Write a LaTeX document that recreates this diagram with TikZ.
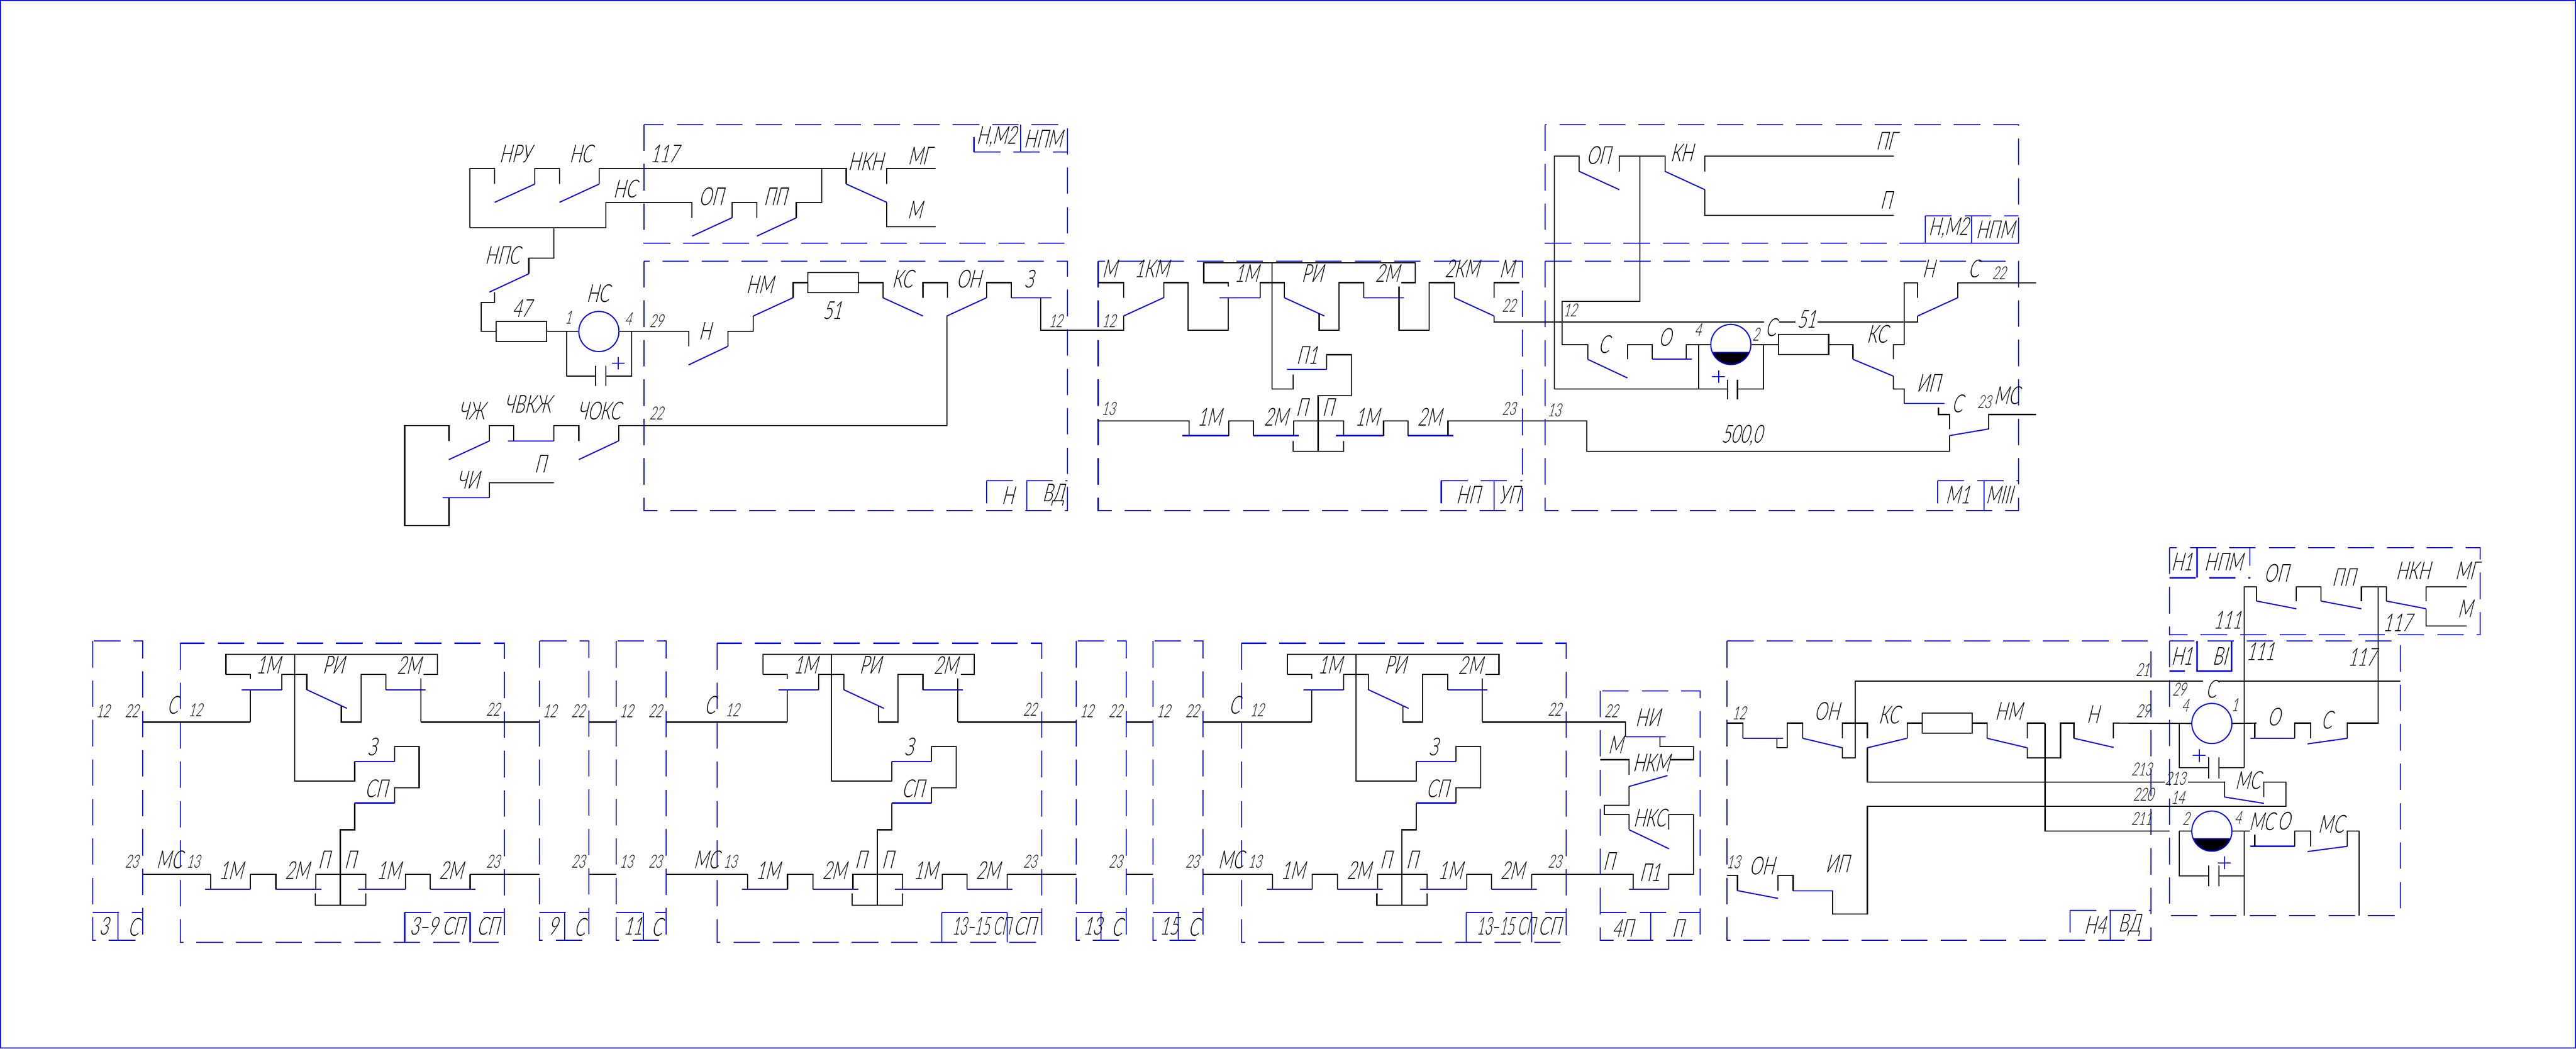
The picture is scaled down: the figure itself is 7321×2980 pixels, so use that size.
\documentclass[tikz,border=0pt]{standalone}
\usepackage{fontspec}
\setmainfont[FakeSlant=0.25,FakeStretch=0.65]{Lato Light}
\definecolor{panelblue}{RGB}{0,0,225}
\tikzset{
  wire/.style={black,line width=0.9pt},
  contact/.style={panelblue,line width=0.9pt},
  panelbox/.style={panelblue,line width=0.9pt,dash pattern=on 0.75cm off 0.37cm},
  tagline/.style={panelblue,line width=0.9pt},
  plus/.style={panelblue,line width=0.9pt},
  biglabel/.style={font=\fontsize{20}{22}\selectfont,inner sep=0pt},
  smalllabel/.style={font=\fontsize{14.5}{16}\selectfont,inner sep=0pt},
  res/.style={draw=black,line width=0.9pt,minimum width=1.43cm,minimum height=0.57cm,inner sep=0pt},
  lamp/.style={draw=panelblue,line width=0.9pt,circle,minimum size=1.14cm,inner sep=0pt},
}
\begin{document}
\begin{tikzpicture}[x=0.01cm,y=-0.01cm]
\useasboundingbox (0,0) rectangle (7321,2980);
\draw[contact] (1.5,1.5) rectangle (7319.5,2978.5);

% upper row, first panel
\draw[panelbox] (1830,354) rectangle (3034,691);
\draw[panelbox] (1830,742) rectangle (3034,1451);
\draw[panelbox] (2768,432) -- (3034,432);
\draw[tagline] (2768,432) -- (2768,390);
\draw[tagline] (2901,354) -- (2901,432);
\draw[panelbox] (2804,1366) -- (3034,1366);
\draw[tagline] (2804,1366) -- (2804,1430);
\draw[tagline] (2918,1366) -- (2918,1451);

\node[res] (res47) at (1481.5,942) {};
\node[res] (res51) at (2367.5,803) {};
\node[lamp] (lampns) at (1702,942) {};

\draw[wire] (1335,647) -- (1335,479) -- (1406,479) -- (1406,523);
\draw[contact] (1406,575) -- (1520,523);
\draw[wire] (1520,523) -- (1520,479) -- (1590,479) -- (1590,523);
\draw[contact] (1590,575) -- (1703,523);
\draw[wire] (1703,523) -- (1703,479) -- (2405,479) -- (2405,523);
\draw[contact] (2405,523) -- (2520,575);
\draw[wire] (2520,575) -- (2520,644) -- (2659,644);
\draw[wire] (2520,523) -- (2520,479) -- (2659,479);
\draw[wire] (1335,647) -- (1722,647) -- (1722,575) -- (1967,575) -- (1967,619);
\draw[contact] (1967,671) -- (2080,619);
\draw[wire] (2080,619) -- (2080,575) -- (2151,575) -- (2151,619);
\draw[contact] (2151,671) -- (2263,619);
\draw[wire] (2263,619) -- (2263,575) -- (2335,575) -- (2335,479);
\draw[wire] (1574,647) -- (1574,734) -- (1503,734) -- (1503,778);
\draw[contact] (1503,778) -- (1391,830);
\draw[wire] (1406,830) -- (1406,860) -- (1368,860) -- (1368,942) -- (res47.west);
\draw[wire] (res47.east) -- (lampns.west);
\draw[wire] (lampns.east) -- (1957,942) -- (1957,984);
\draw[wire] (1611,942) -- (1611,1069) -- (1693,1069);
\draw[wire] (1693,1040) -- (1693,1097);
\draw[wire] (1722,1040) -- (1722,1097);
\draw[wire] (1722,1069) -- (1795,1069) -- (1795,942);
\draw[plus] (1739,1032) -- (1775,1032);
\draw[plus] (1757,1014) -- (1757,1050);
\draw[contact] (1957,1037) -- (2069,984);
\draw[wire] (2069,984) -- (2069,942) -- (2141,942) -- (2141,898);
\draw[contact] (2141,898) -- (2254,846);
\draw[wire] (2254,846) -- (2254,803) -- (res51.west);
\draw[wire] (res51.east) -- (2509,803) -- (2509,846);
\draw[contact] (2509,846) -- (2623,898);
\draw[wire] (2623,846) -- (2623,803) -- (2693,803) -- (2693,846);
\draw[contact] (2691,898) -- (2804,846);
\draw[wire] (2691,898) -- (2691,1210) -- (1758,1210) -- (1758,1253);
\draw[contact] (1758,1253) -- (1645,1306);
\draw[wire] (1645,1253) -- (1645,1209) -- (1574,1209) -- (1574,1253);
\draw[contact] (1444,1253) -- (1574,1253);
\draw[wire] (1460,1253) -- (1460,1209) -- (1391,1209) -- (1391,1253);
\draw[contact] (1276,1306) -- (1391,1253);
\draw[wire] (1276,1253) -- (1276,1209) -- (1150,1209) -- (1150,1493) -- (1276,1493) -- (1276,1414);
\draw[contact] (1258,1414) -- (1391,1414);
\draw[wire] (1391,1414) -- (1391,1372) -- (1574,1372);
\draw[wire] (2804,846) -- (2804,803) -- (2874,803) -- (2874,846);
\draw[contact] (2874,846) -- (2988,846);
\draw[wire] (2958,846) -- (2958,938) -- (3193,938) -- (3193,898);

\node[biglabel] (a1) at (1464,437) {НРУ};
\node[biglabel] (a2) at (1651,437) {НС};
\node[biglabel] (a3) at (1888,437) {117};
\node[biglabel] (a4) at (1776,536) {НС};
\node[biglabel] (a5) at (2021,558) {ОП};
\node[biglabel] (a6) at (2203,558) {ПП};
\node[biglabel] (a7) at (2460,459) {НКН};
\node[biglabel] (a8) at (2613,443) {МГ};
\node[biglabel] (a9) at (2600,597) {М};
\node[biglabel] (a10) at (1428,726) {НПС};
\node[biglabel] (a11) at (1483,876) {47};
\node[smalllabel] (a12) at (1615,902) {1};
\node[biglabel] (a13) at (1699,834) {НС};
\node[smalllabel] (a14) at (1785,906) {4};
\node[smalllabel] (a15) at (1865,912) {29};
\node[biglabel] (a16) at (2003,940) {Н};
\node[biglabel] (a17) at (2159,809) {НМ};
\node[biglabel] (a18) at (2365,882) {51};
\node[biglabel] (a19) at (2564,793) {КС};
\node[biglabel] (a20) at (2753,793) {ОН};
\node[biglabel] (a21) at (2924,793) {З};
\node[smalllabel] (a22) at (3000,912) {12};
\node[biglabel] (a23) at (1340,1167) {ЧЖ};
\node[biglabel] (a24) at (1499,1149) {ЧВКЖ};
\node[biglabel] (a25) at (1702,1167) {ЧОКС};
\node[smalllabel] (a26) at (1865,1175) {22};
\node[biglabel] (a27) at (1535,1319) {П};
\node[biglabel] (a28) at (1330,1364) {ЧИ};
\node[biglabel] (a29) at (2832,388) {Н,М2};
\node[biglabel] (a30) at (2965,394) {НПМ};
\node[biglabel] (a31) at (2865,1408) {Н};
\node[biglabel] (a32) at (2994,1406) {ВД};

% upper row, second panel
\draw[panelbox] (3121,742) rectangle (4327,1451);
\draw[panelbox] (4096,1366) -- (4327,1366);
\draw[tagline] (4096,1366) -- (4096,1430);
\draw[tagline] (4246,1366) -- (4246,1451);

\draw[contact] (3193,898) -- (3307,846);
\draw[wire] (3193,846) -- (3193,803) -- (3121,803);
\draw[wire] (3307,846) -- (3307,803) -- (3376,803) -- (3376,938) -- (3490,938) -- (3490,846);
\draw[contact] (3465,846) -- (3581,846);
\draw[wire] (3581,846) -- (3581,803) -- (3650,803) -- (3650,846);
\draw[contact] (3650,846) -- (3764,898);
\draw[wire] (3749,891) -- (3749,938) -- (3805,938) -- (3805,803) -- (3876,803) -- (3876,846);
\draw[contact] (3876,846) -- (3990,846);
\draw[wire] (3976,814) -- (3976,938) -- (4062,938) -- (4062,803) -- (4133,803) -- (4133,846);
\draw[contact] (4133,846) -- (4246,898);
\draw[wire] (4246,898) -- (4246,915) -- (5014,915);
\draw[wire] (4246,846) -- (4246,803) -- (4318,803);
\draw[wire] (3490,814) -- (3490,803) -- (3421,803) -- (3421,747) -- (4022,747) -- (4022,803) -- (3983,803);
\draw[wire] (3615,747) -- (3615,1106) -- (3675,1106) -- (3675,1065);
\draw[contact] (3657,1050) -- (3770,1050);
\draw[wire] (3770,1050) -- (3770,1008) -- (3840,1008) -- (3840,1125) -- (3746,1125) -- (3746,1283);
\draw[wire] (3121,1196) -- (3379,1196) -- (3379,1238);
\draw[contact] (3361,1238) -- (3492,1238);
\draw[wire] (3492,1238) -- (3492,1196) -- (3562,1196) -- (3562,1238);
\draw[contact] (3562,1238) -- (3691,1238);
\draw[wire] (3677,1238) -- (3677,1196) -- (3818,1196) -- (3818,1238);
\draw[contact] (3797,1238) -- (3932,1238);
\draw[wire] (3932,1238) -- (3932,1196) -- (4002,1196) -- (4002,1238);
\draw[contact] (4002,1238) -- (4130,1238);
\draw[wire] (4115,1238) -- (4115,1196) -- (4510,1196) -- (4510,1283) -- (5540,1283) -- (5540,1238);
\draw[wire] (3675,1253) -- (3675,1283) -- (3818,1283) -- (3818,1253);

\node[biglabel] (b1) at (3153,764) {М};
\node[biglabel] (b2) at (3273,764) {1КМ};
\node[biglabel] (b3) at (3543,777) {1М};
\node[biglabel] (b4) at (3729,777) {РИ};
\node[biglabel] (b5) at (3943,777) {2М};
\node[biglabel] (b6) at (4155,764) {2КМ};
\node[biglabel] (b7) at (4282,764) {М};
\node[smalllabel] (b8) at (3151,912) {12};
\node[smalllabel] (b9) at (4288,868) {22};
\node[biglabel] (b10) at (3715,1010) {П1};
\node[smalllabel] (b11) at (3150,1161) {13};
\node[biglabel] (b12) at (3700,1157) {П};
\node[biglabel] (b13) at (3775,1157) {П};
\node[biglabel] (b14) at (3438,1185) {1М};
\node[biglabel] (b15) at (3626,1185) {2М};
\node[biglabel] (b16) at (3885,1185) {1М};
\node[biglabel] (b17) at (4063,1185) {2М};
\node[smalllabel] (b18) at (4288,1161) {23};
\node[biglabel] (b19) at (4173,1406) {НП};
\node[biglabel] (b20) at (4289,1406) {УП};

% upper row, third panel
\draw[panelbox] (4391,354) rectangle (5737,691);
\draw[panelbox] (4391,742) rectangle (5737,1451);
\draw[panelbox] (5472,613) -- (5737,613);
\draw[tagline] (5472,613) -- (5472,691) -- (5737,691);
\draw[tagline] (5604,613) -- (5604,691);
\draw[panelbox] (5507,1366) -- (5737,1366);
\draw[tagline] (5507,1366) -- (5507,1430);
\draw[tagline] (5639,1366) -- (5639,1451);

\node[res] (res51b) at (5125.5,979) {};
\fill (4972,1001) arc (22.7:157.3:57) -- cycle;
\node[lamp] (lampc) at (4919,979) {};
\draw[contact] (4866,1001) -- (4972,1001);

\draw[wire] (4417,1106) -- (4417,444) -- (4488,444) -- (4488,487);
\draw[contact] (4488,487) -- (4602,539);
\draw[wire] (4602,487) -- (4602,444) -- (4732,444) -- (4732,487);
\draw[contact] (4732,487) -- (4845,539);
\draw[wire] (4845,539) -- (4845,612) -- (5383,612);
\draw[wire] (4845,487) -- (4845,444) -- (5383,444);
\draw[wire] (4660,444) -- (4660,856) -- (4440,856) -- (4440,979) -- (4512,979) -- (4512,1021);
\draw[contact] (4512,1021) -- (4625,1074);
\draw[wire] (4625,1021) -- (4625,979) -- (4696,979) -- (4696,1021);
\draw[contact] (4696,1021) -- (4809,1021);
\draw[wire] (4792,1021) -- (4792,979) -- (lampc.west);
\draw[wire] (lampc.east) -- (res51b.west);
\draw[wire] (res51b.east) -- (5266,979) -- (5266,1021);
\draw[contact] (5266,1021) -- (5381,1069);
\draw[wire] (5381,1069) -- (5381,1106) -- (5412,1106) -- (5412,1147);
\draw[contact] (5412,1147) -- (5526,1147);
\draw[wire] (5509,1158) -- (5509,1178) -- (5540,1178) -- (5540,1219);
\draw[contact] (5540,1238) -- (5652,1219);
\draw[wire] (5652,1219) -- (5652,1178) -- (5787,1178);
\draw[wire] (4828,979) -- (4828,1106) -- (4417,1106);
\draw[wire] (4828,1106) -- (4910,1106);
\draw[wire] (4910,1079) -- (4910,1135);
\draw[wire] (4938,1079) -- (4938,1135);
\draw[wire] (4938,1106) -- (5012,1106) -- (5012,979);
\draw[plus] (4866,1070) -- (4902,1070);
\draw[plus] (4884,1052) -- (4884,1088);
\draw[wire] (5381,1021) -- (5381,979) -- (5412,979) -- (5412,804) -- (5450,804) -- (5450,846);
\draw[wire] (5056,915) -- (5102,915);
\draw[wire] (5165,915) -- (5450,915) -- (5450,898);
\draw[contact] (5450,898) -- (5564,846);
\draw[wire] (5564,846) -- (5564,804) -- (5787,804);

\node[biglabel] (c1) at (4543,442) {ОП};
\node[biglabel] (c2) at (4780,434) {КН};
\node[biglabel] (c3) at (5360,400) {ПГ};
\node[biglabel] (c4) at (5360,569) {П};
\node[biglabel] (c5) at (5481,764) {Н};
\node[biglabel] (c6) at (5610,764) {С};
\node[smalllabel] (c7) at (5681,776) {22};
\node[smalllabel] (c8) at (4462,882) {12};
\node[biglabel] (c9) at (4558,979) {С};
\node[biglabel] (c10) at (4732,958) {О};
\node[smalllabel] (c11) at (4825,938) {4};
\node[smalllabel] (c12) at (4990,950) {2};
\node[biglabel] (c13) at (5033,930) {С};
\node[biglabel] (c14) at (5134,907) {51};
\node[biglabel] (c15) at (5335,950) {КС};
\node[biglabel] (c16) at (5481,1089) {ИП};
\node[biglabel] (c17) at (5563,1147) {С};
\node[biglabel] (c18) at (5703,1124) {МС};
\node[smalllabel] (c19) at (5639,1143) {23};
\node[smalllabel] (c20) at (4417,1165) {13};
\node[biglabel] (c21) at (4950,1238) {500,0};
\node[biglabel] (c22) at (5538,647) {Н,М2};
\node[biglabel] (c23) at (5670,652) {НПМ};
\node[biglabel] (c24) at (5564,1406) {М1};
\node[biglabel] (c25) at (5682,1406) {МIII};

% lower row, narrow boxes
\foreach \xleft/\xright/\xtag/\xnum/\num in {263/405/335/295/3,1533/1674/1605/1572/9,1751/1893/1829/1799/11,3059/3201/3129/3105/13,3277/3419/3348/3323/15} {
  \draw[panelbox] (\xleft,1822) rectangle (\xright,2672);
  \draw[panelbox] (\xleft,2593) -- (\xright,2593);
  \draw[tagline] (\xtag,2593) -- (\xtag,2672);
  \node[smalllabel] (top\num) at (\xleft+29,2021) {12};
  \node[smalllabel] (out\num) at (\xright-31,2021) {22};
  \node[smalllabel] (low\num) at (\xright-31,2449) {23};
  \node[biglabel] (num\num) at (\xnum,2632) {\num};
  \node[biglabel] (let\num) at (\xright-26,2635) {С};
}
\node[smalllabel] (low13a) at (1780,2449) {13};

% lower row, repeated blocks
\foreach \xoffset/\tagx/\tagscale/\tagtext in {0/1243/1/3–9 СП,1526/1264/0.8/13–15 СП,3017/1264/0.8/13–15 СП} {
\begin{scope}[shift={(\xoffset,0)}]
  \draw[panelbox] (512,1828) rectangle (1434,2678);
  \draw[panelbox] (1150,2593) -- (1434,2593);
  \draw[tagline] (1150,2593) -- (1150,2678);
  \draw[tagline] (1336,2593) -- (1336,2678);
  \draw[wire] (642,1917) -- (642,1860) -- (1243,1860) -- (1243,1917) -- (1204,1917);
  \draw[wire] (642,1917) -- (711,1917) -- (711,1930);
  \draw[wire] (711,1960) -- (711,2052);
  \draw[contact] (687,1960) -- (801,1960);
  \draw[wire] (801,1960) -- (801,1917) -- (872,1917) -- (872,1960);
  \draw[contact] (872,1960) -- (986,2013);
  \draw[wire] (970,2006) -- (970,2052) -- (1026,2052) -- (1026,1917) -- (1097,1917) -- (1097,1960);
  \draw[contact] (1097,1960) -- (1210,1960);
  \draw[wire] (1196,1928) -- (1196,2052);
  \draw[wire] (837,1860) -- (837,2220) -- (1008,2220) -- (1008,2164);
  \draw[contact] (1008,2164) -- (1121,2164);
  \draw[wire] (1121,2164) -- (1121,2122) -- (1191,2122) -- (1191,2239) -- (1121,2239) -- (1121,2282);
  \draw[contact] (1008,2282) -- (1121,2282);
  \draw[wire] (1008,2282) -- (1008,2358) -- (967,2358) -- (967,2572);
  \draw[wire] (896,2539) -- (896,2572) -- (1039,2572) -- (1039,2539);
  \draw[wire] (599,2485) -- (599,2527);
  \draw[contact] (583,2527) -- (712,2527);
  \draw[wire] (712,2527) -- (712,2485) -- (784,2485) -- (784,2527);
  \draw[contact] (784,2527) -- (913,2527);
  \draw[wire] (898,2527) -- (898,2485) -- (1039,2485) -- (1039,2527);
  \draw[contact] (1018,2527) -- (1152,2527);
  \draw[wire] (1152,2527) -- (1152,2485) -- (1222,2485) -- (1222,2527);
  \draw[contact] (1222,2527) -- (1351,2527);
  \draw[wire] (1336,2527) -- (1336,2485);
  \node[biglabel] (d1\xoffset) at (491,2003) {С};
  \node[smalllabel] (d2\xoffset) at (555,2018) {12};
  \node[biglabel] (d3\xoffset) at (763,1890) {1М};
  \node[biglabel] (d4\xoffset) at (948,1890) {РИ};
  \node[biglabel] (d5\xoffset) at (1162,1890) {2М};
  \node[smalllabel] (d6\xoffset) at (1401,2016) {22};
  \node[biglabel] (d7\xoffset) at (1057,2123) {З};
  \node[biglabel] (d8\xoffset) at (1069,2241) {СП};
  \node[biglabel] (d9\xoffset) at (481,2443) {МС};
  \node[smalllabel] (d10\xoffset) at (549,2449) {13};
  \node[biglabel] (d11\xoffset) at (657,2473) {1М};
  \node[biglabel] (d12\xoffset) at (845,2473) {2М};
  \node[biglabel] (d13\xoffset) at (921,2443) {П};
  \node[biglabel] (d14\xoffset) at (996,2443) {П};
  \node[biglabel] (d15\xoffset) at (1105,2473) {1М};
  \node[biglabel] (d16\xoffset) at (1282,2473) {2М};
  \node[smalllabel] (d17\xoffset) at (1401,2449) {23};
  \node[biglabel] (d18\xoffset) at (\tagx,2632) {\scalebox{\tagscale}[1]{\tagtext}};
  \node[biglabel] (d19\xoffset) at (1387,2632) {СП};
\end{scope}
}
\draw[wire] (405,2052) -- (711,2052);
\draw[wire] (1196,2052) -- (1533,2052);
\draw[wire] (1674,2052) -- (1751,2052);
\draw[wire] (1893,2052) -- (2237,2052);
\draw[wire] (2722,2052) -- (3059,2052);
\draw[wire] (3201,2052) -- (3277,2052);
\draw[wire] (3419,2052) -- (3728,2052);
\draw[wire] (4213,2052) -- (4620,2052) -- (4620,2094);
\draw[wire] (405,2485) -- (599,2485);
\draw[wire] (1336,2485) -- (1533,2485);
\draw[wire] (1674,2485) -- (1751,2485);
\draw[wire] (1893,2485) -- (2125,2485);
\draw[wire] (2862,2485) -- (3059,2485);
\draw[wire] (3201,2485) -- (3277,2485);
\draw[wire] (3419,2485) -- (3616,2485);
\draw[wire] (4353,2485) -- (4642,2485) -- (4642,2527);

% box with 4П
\draw[panelbox] (4548,1963) rectangle (4832,2672);
\draw[panelbox] (4548,2593) -- (4832,2593);
\draw[tagline] (4691,2593) -- (4691,2672);
\draw[contact] (4620,2094) -- (4734,2094);
\draw[wire] (4717,2094) -- (4717,2121) -- (4813,2121) -- (4813,2159) -- (4746,2159);
\draw[wire] (4548,2159) -- (4630,2159) -- (4630,2202);
\draw[contact] (4630,2235) -- (4739,2204);
\draw[wire] (4630,2235) -- (4630,2289) -- (4559,2289) -- (4559,2315) -- (4630,2315) -- (4630,2358);
\draw[contact] (4630,2358) -- (4743,2412);
\draw[wire] (4743,2358) -- (4743,2315) -- (4813,2315) -- (4813,2485) -- (4743,2485) -- (4743,2527);
\draw[contact] (4630,2527) -- (4743,2527);

\node[smalllabel] (e1) at (4579,2021) {22};
\node[biglabel] (e2) at (4683,2039) {НИ};
\node[biglabel] (e3) at (4591,2116) {М};
\node[biglabel] (e4) at (4693,2167) {НКМ};
\node[biglabel] (e5) at (4688,2324) {НКС};
\node[biglabel] (e6) at (4572,2448) {П};
\node[biglabel] (e7) at (4689,2479) {П1};
\node[biglabel] (e8) at (4612,2637) {4П};
\node[biglabel] (e9) at (4768,2637) {П};

% lower right
\draw[panelbox] (4908,1822) rectangle (6113,2672);
\draw[panelbox] (5883,2587) -- (6113,2587);
\draw[tagline] (5883,2587) -- (5883,2650);
\draw[tagline] (5997,2587) -- (5997,2671);
\draw[panelbox] (6166,1821) rectangle (6821,2602);
\draw[panelbox] (6166,1556) rectangle (7049,1804);
\draw[tagline] (6244,1556) -- (6244,1642);
\draw[panelbox] (6166,1642) -- (6395,1642);
\draw[tagline] (6394,1556) -- (6394,1607);
\draw[tagline] (6244,1821) -- (6244,1907) -- (6342,1907) -- (6342,1875);
\draw[tagline] (6342,1821) -- (6342,1875);
\draw[tagline] (6166,1907) -- (6210,1907);

\node[res,minimum height=0.58cm,minimum width=1.42cm] (res51c) at (5534,2055) {};
\node[lamp] (lampc2) at (6286,2056) {};
\fill (6339,2384) arc (22.7:157.3:57) -- cycle;
\node[lamp] (lampm) at (6286,2362) {};
\draw[contact] (6233,2384) -- (6339,2384);

\draw[wire] (4908,2055) -- (4953,2055) -- (4953,2098);
\draw[contact] (4953,2098) -- (5067,2098);
\draw[wire] (5050,2098) -- (5050,2125) -- (5079,2125) -- (5079,2055) -- (5123,2055) -- (5123,2098);
\draw[contact] (5123,2098) -- (5236,2125);
\draw[wire] (5236,2125) -- (5236,2154) -- (5272,2154) -- (5272,1936) -- (6261,1936);
\draw[wire] (6303,1936) -- (6821,1936);
\draw[wire] (5236,2098) -- (5236,2055) -- (5307,2055) -- (5307,2098);
\draw[contact] (5307,2125) -- (5420,2098);
\draw[wire] (5420,2098) -- (5420,2055) -- (res51c.west);
\draw[wire] (res51c.east) -- (5647,2055) -- (5647,2098);
\draw[contact] (5647,2098) -- (5761,2125);
\draw[wire] (5761,2125) -- (5761,2154) -- (5856,2154) -- (5856,2055) -- (5894,2055) -- (5894,2098);
\draw[contact] (5894,2098) -- (6007,2124);
\draw[wire] (5812,2055) -- (5761,2055) -- (5761,2098);
\draw[wire] (5812,2055) -- (5812,2362) -- (6166,2362);
\draw[wire] (5307,2125) -- (5307,2223) -- (6153,2223);
\draw[wire] (6218,2223) -- (6322,2223) -- (6322,2265);
\draw[contact] (6322,2265) -- (6434,2283);
\draw[wire] (5208,2531) -- (5208,2597) -- (5307,2597) -- (5307,2292) -- (6497,2292) -- (6497,2223) -- (6434,2223) -- (6434,2265);
\draw[wire] (4908,2488) -- (4938,2488) -- (4938,2531);
\draw[contact] (4938,2531) -- (5053,2553);
\draw[wire] (5053,2531) -- (5053,2488) -- (5096,2488) -- (5096,2531);
\draw[contact] (5096,2531) -- (5210,2531);

\draw[wire] (6378,2181) -- (6378,1668) -- (6413,1668) -- (6413,1708);
\draw[contact] (6413,1708) -- (6526,1730);
\draw[wire] (6526,1708) -- (6526,1668) -- (6596,1668) -- (6596,1708);
\draw[contact] (6596,1708) -- (6711,1730);
\draw[wire] (6711,1708) -- (6711,1668) -- (6782,1668) -- (6782,1708);
\draw[contact] (6782,1708) -- (6895,1730);
\draw[wire] (6895,1708) -- (6895,1668) -- (7011,1668);
\draw[wire] (6895,1730) -- (6895,1779) -- (7011,1779);
\draw[wire] (6759,1668) -- (6759,2055) -- (6671,2055) -- (6671,2098);
\draw[wire] (6378,2181) -- (6306,2181);
\draw[wire] (6306,2152) -- (6306,2212);
\draw[wire] (6277,2152) -- (6277,2212);
\draw[wire] (6277,2181) -- (6194,2181) -- (6194,2055);
\draw[wire] (6006,2098) -- (6006,2055) -- (lampc2.west);
\draw[wire] (lampc2.east) -- (6413,2055);
\draw[wire] (6408,2055) -- (6408,2098);
\draw[contact] (6396,2098) -- (6521,2098);
\draw[wire] (6521,2098) -- (6521,2055) -- (6567,2055) -- (6567,2098);
\draw[contact] (6558,2114) -- (6671,2098);
\draw[plus] (6232,2147) -- (6268,2147);
\draw[plus] (6250,2129) -- (6250,2165);

\draw[wire] (6194,2362) -- (lampm.west);
\draw[wire] (6194,2362) -- (6194,2489) -- (6277,2489);
\draw[wire] (6277,2460) -- (6277,2518);
\draw[wire] (6306,2460) -- (6306,2518);
\draw[wire] (6306,2489) -- (6378,2489);
\draw[wire] (lampm.east) -- (6394,2362);
\draw[wire] (6378,2362) -- (6378,2602);
\draw[wire] (6705,2602) -- (6705,2362) -- (6671,2362) -- (6671,2405);
\draw[contact] (6558,2420) -- (6671,2405);
\draw[wire] (6567,2405) -- (6567,2362) -- (6521,2362) -- (6521,2405);
\draw[contact] (6396,2405) -- (6521,2405);
\draw[wire] (6408,2372) -- (6408,2405);
\draw[plus] (6304,2452) -- (6340,2452);
\draw[plus] (6322,2434) -- (6322,2470);

\node[smalllabel] (f1) at (4942,2026) {12};
\node[biglabel] (f2) at (5192,2022) {ОН};
\node[biglabel] (f3) at (5368,2032) {КС};
\node[biglabel] (f4) at (5708,2022) {НМ};
\node[smalllabel] (f5) at (4926,2450) {13};
\node[biglabel] (f6) at (5007,2461) {ОН};
\node[biglabel] (f7) at (5222,2455) {ИП};
\node[biglabel] (f8) at (6201,1597) {Н1};
\node[biglabel] (f9) at (6319,1596) {НПМ};
\node[biglabel] (f10) at (6469,1629) {ОП};
\node[biglabel] (f11) at (6661,1640) {ПП};
\node[biglabel] (f12) at (6858,1621) {НКН};
\node[biglabel] (f13) at (7010,1621) {МГ};
\node[biglabel] (f14) at (6331,1762) {111};
\node[biglabel] (f15) at (6813,1769) {117};
\node[biglabel] (f16) at (7006,1730) {М};
\node[biglabel] (f17) at (6201,1864) {Н1};
\node[biglabel] (f18) at (6309,1864) {ВI};
\node[biglabel] (f19) at (6424,1851) {111};
\node[biglabel] (f20) at (6713,1867) {117};
\node[smalllabel] (f21) at (6089,1904) {21};
\node[biglabel] (f22) at (6285,1959) {С};
\node[smalllabel] (f23) at (6193,1959) {29};
\node[smalllabel] (f24) at (6210,2005) {4};
\node[smalllabel] (f25) at (6351,2003) {1};
\node[biglabel] (f26) at (5948,2030) {Н};
\node[smalllabel] (f27) at (6090,2020) {29};
\node[biglabel] (f28) at (6462,2037) {О};
\node[biglabel] (f29) at (6612,2046) {С};
\node[smalllabel] (f30) at (6086,2186) {213};
\node[smalllabel] (f31) at (6182,2213) {213};
\node[biglabel] (f32) at (6388,2218) {МС};
\node[smalllabel] (f33) at (6091,2258) {220};
\node[smalllabel] (f34) at (6189,2267) {14};
\node[smalllabel] (f35) at (6086,2326) {211};
\node[smalllabel] (f36) at (6212,2326) {2};
\node[smalllabel] (f37) at (6360,2324) {4};
\node[biglabel] (f38) at (6428,2334) {МС};
\node[biglabel] (f39) at (6491,2333) {О};
\node[biglabel] (f40) at (6625,2342) {МС};
\node[biglabel] (f41) at (5954,2629) {Н4};
\node[biglabel] (f42) at (6052,2629) {ВД};
\end{tikzpicture}
\end{document}
